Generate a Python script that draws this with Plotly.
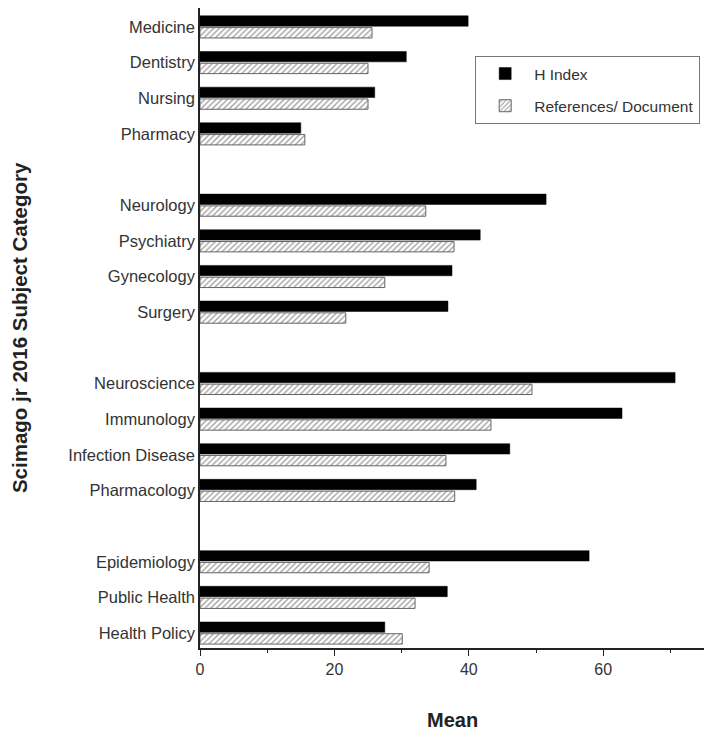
import plotly.graph_objects as go

groups = [
    ["Medicine", "Dentistry", "Nursing", "Pharmacy"],
    ["Neurology", "Psychiatry", "Gynecology", "Surgery"],
    ["Neuroscience", "Immunology", "Infection Disease", "Pharmacology"],
    ["Epidemiology", "Public Health", "Health Policy"],
]
h_index = [39.9, 30.7, 26.0, 15.0,
           51.5, 41.7, 37.5, 36.9,
           70.7, 62.8, 46.1, 41.1,
           57.9, 36.8, 27.5]
refs_doc = [25.6, 25.0, 25.0, 15.6,
            33.6, 37.8, 27.5, 21.7,
            49.4, 43.3, 36.6, 37.9,
            34.1, 32.0, 30.1]
x_ticks = [0, 20, 40, 60]

# positions: one empty slot between groups
categories, positions = [], []
pos = 0
for g in groups:
    for c in g:
        categories.append(c)
        positions.append(pos)
        pos += 1
    pos += 1

font = "Liberation Sans, Arial, sans-serif"

fig = go.Figure()
fig.add_trace(go.Bar(
    y=positions, x=h_index, orientation="h", name="H Index", legendgroup="a",
    marker=dict(color="black", line=dict(color="black", width=0.5)),
))
fig.add_trace(go.Bar(
    y=positions, x=refs_doc, orientation="h", name="References/ Document", legendgroup="b",
    marker=dict(color="white", line=dict(color="#666", width=1),
                pattern=dict(shape="/", fgcolor="#444", bgcolor="white", size=4, solidity=0.35)),
))

fig.update_layout(
    width=704, height=734,
    margin=dict(l=200, r=0, t=8, b=86),
    plot_bgcolor="white", paper_bgcolor="white",
    barmode="group", bargap=0.34, bargroupgap=0.12,
    font=dict(family=font, size=16.5, color="#333"),
    showlegend=True,
    legend=dict(x=0.546, y=0.925, xanchor="left", yanchor="top",
                bordercolor="#777", borderwidth=1, bgcolor="white",
                font=dict(size=15.5, color="#333"), tracegroupgap=9,
                traceorder="grouped", itemwidth=48),
    xaxis=dict(range=[0, 75], tickvals=x_ticks, ticks="outside", ticklen=6,
               tickcolor="#222", showline=True, linecolor="#222", linewidth=1.5,
               showgrid=False, zeroline=False, automargin=False,
               tickfont=dict(size=16, color="#333"),
               minor=dict(ticks="outside", ticklen=3, dtick=10, tickcolor="#222")),
    yaxis=dict(range=[positions[-1] + 0.42, -0.53], tickvals=positions, ticktext=categories,
               ticks="", showline=True, linecolor="#222", linewidth=1.5,
               showgrid=False, zeroline=False, ticklabelstandoff=0, automargin=False),
    annotations=[
        dict(text="<b>Scimago jr 2016 Subject Category</b>", xref="paper", yref="paper",
             x=-0.359, y=0.5, xanchor="center", yanchor="middle", textangle=-90,
             showarrow=False, font=dict(size=20.5, color="#222", family=font)),
        dict(text="<b>Mean</b>", xref="paper", yref="paper",
             x=0.5, y=-0.1125, xanchor="center", yanchor="middle", showarrow=False,
             font=dict(size=20, color="#222", family=font)),
    ],
)

fig.write_html("out.html", config={"displayModeBar": False},
               post_script="document.body.style.margin='0';document.body.style.overflow='hidden';")
